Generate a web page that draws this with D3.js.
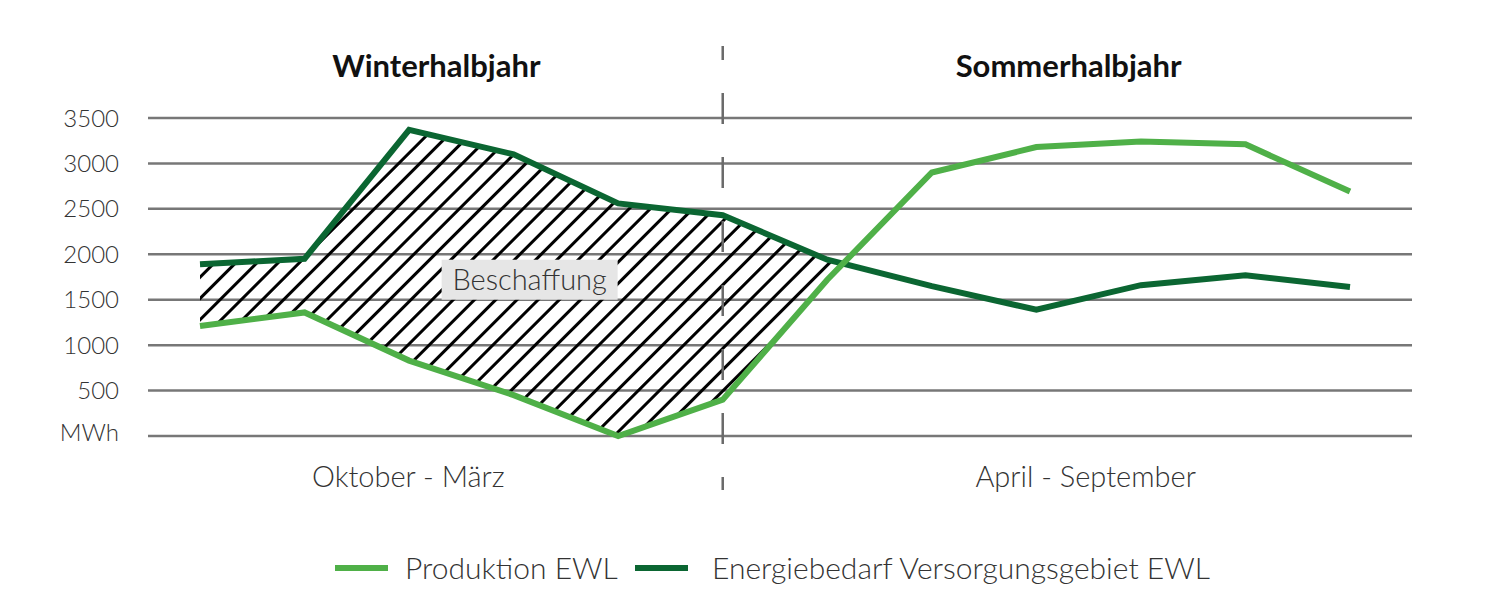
<!DOCTYPE html>
<html lang="de">
<head>
    <meta charset="UTF-8">
    <title>Produktion vs. Energiebedarf EWL</title>
    <script src="https://d3js.org/d3.v7.min.js"></script>
    <style>
        body {
            margin: 0;
            background: #ffffff;
            font-family: 'Lato', 'Open Sans', sans-serif;
        }
        .grid line {
            stroke: #777;
            stroke-width: 2.5px;
        }
        .tick-label {
            font-size: 24px;
            font-weight: 300;
            fill: #333;
        }
        .half-title {
            font-size: 31px;
            font-weight: 700;
            fill: #111;
        }
        .half-sub {
            font-size: 29px;
            font-weight: 300;
            fill: #333;
        }
        .legend text {
            font-size: 30px;
            font-weight: 300;
            fill: #333;
        }
    </style>
</head>
<body>
    <div id="chart"></div>
    <script>
        // Monate Oktober bis September
        const months = ["Okt", "Nov", "Dez", "Jan", "Feb", "Mär", "Apr", "Mai", "Jun", "Jul", "Aug", "Sep"];
        const produktion = [1210, 1360, 830, 450, 0, 400, 1720, 2900, 3180, 3240, 3210, 2690];
        const bedarf = [1890, 1950, 3370, 3100, 2560, 2430, 1940, 1650, 1390, 1660, 1770, 1640];
        const yTicks = [0, 500, 1000, 1500, 2000, 2500, 3000, 3500];
        const halves = [
            { title: "Winterhalbjahr", sub: "Oktober - März" },
            { title: "Sommerhalbjahr", sub: "April - September" }
        ];
        const seriesNames = ["Produktion EWL", "Energiebedarf Versorgungsgebiet EWL"];
        const colors = ["#4fb048", "#0b6632"];

        const width = 1500, height = 615;

        const svg = d3.select("#chart")
            .append("svg")
            .attr("width", width)
            .attr("height", height);

        const x = d3.scalePoint()
            .domain(months)
            .range([200, 1350]);

        const y = d3.scaleLinear()
            .domain([0, 3500])
            .range([436, 118]);

        // Gitterlinien
        svg.append("g")
            .attr("class", "grid")
            .selectAll("line")
            .data(yTicks)
            .enter()
            .append("line")
            .attr("x1", 148)
            .attr("x2", 1412)
            .attr("y1", d => y(d))
            .attr("y2", d => y(d));

        // Y-Achse Beschriftung
        svg.append("g")
            .selectAll("text")
            .data(yTicks)
            .enter()
            .append("text")
            .attr("class", "tick-label")
            .attr("x", 119)
            .attr("y", d => y(d))
            .attr("dy", d => d === 0 ? "0.2em" : "0.36em")
            .attr("text-anchor", "end")
            .text(d => d === 0 ? "MWh" : d);

        // Schraffur
        const defs = svg.append("defs");
        defs.append("pattern")
            .attr("id", "hatch")
            .attr("patternUnits", "userSpaceOnUse")
            .attr("width", 15)
            .attr("height", 15)
            .attr("patternTransform", "rotate(45)")
            .append("line")
            .attr("x1", 7.5).attr("y1", 0)
            .attr("x2", 7.5).attr("y2", 15)
            .attr("stroke", "#000")
            .attr("stroke-width", 3);

        // Schnittpunkt zwischen Bedarf und Produktion suchen
        const gap = [];
        for (let i = 0; i < months.length; i++) {
            const diff = bedarf[i] - produktion[i];
            if (diff < 0) {
                const prev = bedarf[i - 1] - produktion[i - 1];
                const t = prev / (prev - diff);
                const xc = x(months[i - 1]) + t * (x(months[i]) - x(months[i - 1]));
                const vc = bedarf[i - 1] + t * (bedarf[i] - bedarf[i - 1]);
                gap.push({ px: xc, lo: vc, hi: vc });
                break;
            }
            gap.push({ px: x(months[i]), lo: produktion[i], hi: bedarf[i] });
        }

        const area = d3.area()
            .x(d => d.px)
            .y0(d => y(d.lo))
            .y1(d => y(d.hi));

        svg.append("path")
            .datum(gap)
            .attr("d", area)
            .attr("fill", "url(#hatch)");

        // Trennlinie Winter / Sommer
        const split = x(months[5]);
        svg.append("line")
            .attr("x1", split).attr("x2", split)
            .attr("y1", 46).attr("y2", 490)
            .attr("stroke", "#6a6a6a")
            .attr("stroke-width", 2.5)
            .attr("stroke-dasharray", "31 33")
            .attr("stroke-dashoffset", 17);

        // Linien
        const line = d3.line()
            .x((d, i) => x(months[i]))
            .y(d => y(d));

        [bedarf, produktion].forEach((s, k) => {
            svg.append("path")
                .datum(s)
                .attr("d", line)
                .attr("fill", "none")
                .attr("stroke", k === 0 ? colors[1] : colors[0])
                .attr("stroke-width", 6)
                .attr("stroke-linejoin", "miter");
        });

        // Beschriftung Beschaffung
        const lab = svg.append("g")
            .attr("transform", `translate(${x(months[3]) + 16},${y(1720)})`);
        lab.append("rect")
            .attr("x", -88).attr("y", -20)
            .attr("width", 176).attr("height", 40)
            .attr("fill", "#e6e6e6");
        lab.append("text")
            .attr("class", "half-sub")
            .attr("text-anchor", "middle")
            .attr("dy", "0.35em")
            .style("font-size", "29px")
            .text("Beschaffung");

        // Halbjahres-Titel
        const halfCenters = [
            (x(months[0]) + x(months[5])) / 2 - 25,
            (x(months[6]) + x(months[11])) / 2 - 20
        ];
        const subCenters = [
            (x(months[0]) + x(months[5])) / 2 - 53,
            (x(months[6]) + x(months[11])) / 2 - 3
        ];
        svg.selectAll(".half-title")
            .data(halves)
            .enter()
            .append("text")
            .attr("class", "half-title")
            .attr("x", (d, i) => halfCenters[i])
            .attr("y", 77)
            .attr("text-anchor", "middle")
            .text(d => d.title);

        svg.selectAll(".half-sub-t")
            .data(halves)
            .enter()
            .append("text")
            .attr("class", "half-sub")
            .attr("x", (d, i) => subCenters[i])
            .attr("y", 487)
            .attr("text-anchor", "middle")
            .text(d => d.sub);

        // Legende
        const legend = svg.append("g").attr("class", "legend");
        const legendX = [335, 635];
        const legendTextX = [405, 712];
        seriesNames.forEach((name, i) => {
            legend.append("line")
                .attr("x1", legendX[i]).attr("x2", legendX[i] + 53)
                .attr("y1", 568).attr("y2", 568)
                .attr("stroke", colors[i])
                .attr("stroke-width", 6);
            legend.append("text")
                .attr("x", legendTextX[i])
                .attr("y", 568)
                .attr("dy", "0.35em")
                .text(name);
        });
    </script>
</body>
</html>
